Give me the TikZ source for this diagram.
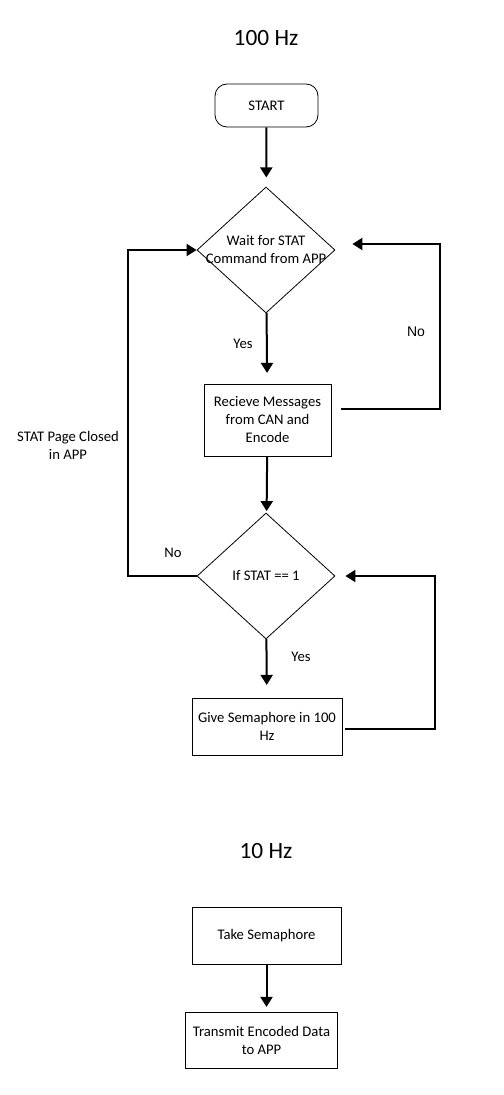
\documentclass[tikz,border=0pt]{standalone}
\usepackage{fontspec}
\setmainfont{Carlito}
\newfontfamily\arialfont{Liberation Sans}
\usetikzlibrary{shapes.geometric,arrows.meta,positioning}

\begin{document}
\begin{tikzpicture}[x=0.75pt,y=-0.75pt,
    font=\fontsize{11}{13.5}\selectfont,
    line/.style={line width=1.5pt},
    arrow/.style={line, -{Triangle[width=9pt,length=7.5pt]}},
    startbox/.style={draw, line width=0.6pt, rounded corners=9pt, minimum width=77.25pt, minimum height=32.25pt},
    procbox/.style={draw, line width=0.6pt, align=center, inner sep=1pt},
    decision/.style={draw, diamond, line width=0.6pt, inner sep=0pt, minimum width=103.5pt, minimum height=94.5pt},
    title/.style={font=\fontsize{17.5}{21}\selectfont}]
    \useasboundingbox (0,0) rectangle (503,1095);

    % 100 Hz task
    \node[title] (t100) at (266,38) {100 Hz};
    \node[startbox] (start) at (266.5,105.5) {START};
    \node[decision, label={[align=center]center:Wait for STAT\\Command from APP}] (wait) at (266,250) {};
    \node[procbox, minimum width=95.25pt, minimum height=54pt] (recv) at (267.5,420) {Recieve Messages\\from CAN and\\Encode};
    \node[decision, label={center:If STAT == 1}] (check) at (266,576) {};
    \node[procbox, minimum width=112.5pt, minimum height=42.75pt] (give) at (267,726.5) {Give Semaphore in 100\\Hz};

    \draw[arrow, shorten >=7pt] (start) -- (wait);
    \draw[arrow, shorten >=8pt] (wait) -- (recv);
    \draw[arrow, shorten >=1.5pt] (recv) -- (check);
    \draw[arrow, shorten >=9.5pt] (check) -- (give);

    % No: back to waiting
    \coordinate (noup) at (440,409);
    \coordinate (notop) at (440,244);
    \draw[arrow] ([xshift=7.5pt]recv.east |- noup) -- (noup) -- (notop) -- ([xshift=12.75pt]wait.east |- notop);
    % loop of the semaphore
    \coordinate (semup) at (435,729);
    \coordinate (semtop) at (435,576);
    \draw[arrow] ([xshift=2pt]give.east |- semup) -- (semup) -- (semtop) -- ([xshift=7.5pt]check.east);
    % page closed
    \coordinate (closed) at (128,576);
    \draw[arrow] (check.west) -- (closed) |- (wait.west);

    \node (yes1) at (243,344) {Yes};
    \node (yes2) at (301,657) {Yes};
    \node[font=\arialfont\fontsize{10.5}{13}\selectfont] (no1) at (416,332) {No};
    \node (no2) at (173,553) {No};
    \node[align=center] (pageclosed) at (68,445) {STAT Page Closed\\in APP};

    % 10 Hz task
    \node[title] (t10) at (266,851) {10 Hz};
    \node[procbox, minimum width=111.75pt, minimum height=42.75pt] (take) at (266.5,935.5) {Take Semaphore};
    \node[procbox, minimum width=114pt, minimum height=42pt] (send) at (261.5,1040) {Transmit Encoded Data\\to APP};
    \draw[arrow, shorten >=3.5pt] (take.south) -- (take.south |- send.north);
\end{tikzpicture}
\end{document}
